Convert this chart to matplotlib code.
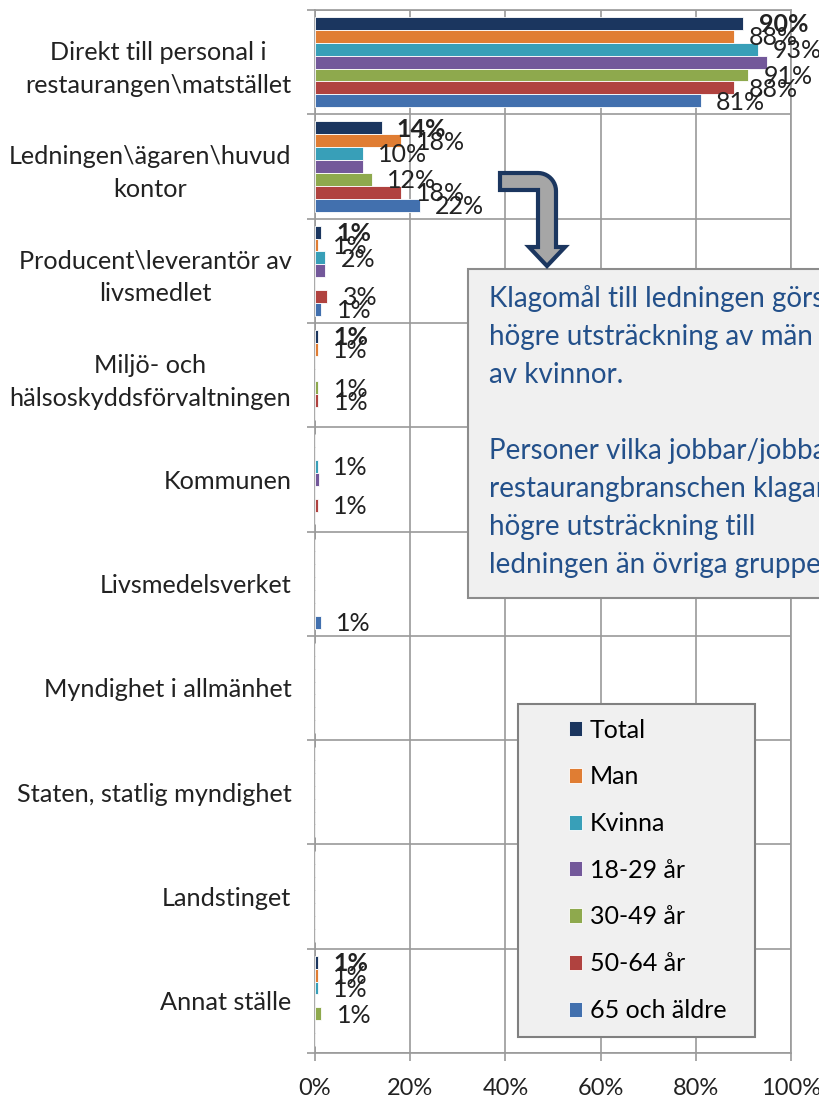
import numpy as np
import matplotlib
matplotlib.use("Agg")
import matplotlib.pyplot as plt
from matplotlib.patches import Rectangle, Polygon

plt.rcParams["font.family"] = ["Lato", "DejaVu Sans"]

# categories (top to bottom)
categories = [
    "Direkt till personal i\nrestaurangen\\matstället",
    "Ledningen\\ägaren\\huvud\nkontor",
    "Producent\\leverantör av\nlivsmedlet",
    "Miljö- och\nhälsoskyddsförvaltningen",
    "Kommunen",
    "Livsmedelsverket",
    "Myndighet i allmänhet",
    "Staten, statlig myndighet",
    "Landstinget",
    "Annat ställe",
]

series_names = ["Total", "Man", "Kvinna", "18-29 år", "30-49 år", "50-64 år", "65 och äldre"]

total = [90, 14, 1.3, 0.6, 0, 0, 0, 0, 0, 0.6]
man = [88, 18, 0.6, 0.6, 0, 0, 0, 0, 0, 0.6]
kvinna = [93, 10, 2.2, 0, 0.6, 0, 0, 0, 0, 0.6]
age_18_29 = [95, 10, 2.2, 0, 0.8, 0, 0, 0, 0, 0]
age_30_49 = [91, 12, 0, 0.7, 0, 0, 0, 0, 0, 1.3]
age_50_64 = [88, 18, 2.6, 0.7, 0.6, 0, 0, 0, 0, 0]
age_65 = [81, 22, 1.3, 0, 0, 1.2, 0, 0, 0, 0]

# 18-29 has no data labels in the original
show_labels = [True, True, True, False, True, True, True]

colors = ["#1b365f", "#e07d33", "#389fb8", "#73589a", "#8ea94d", "#b0423f", "#4270ae"]

note_lines = [
    "Klagomål till ledningen görs i",
    "högre utsträckning av män än",
    "av kvinnor.",
    "",
    "Personer vilka jobbar/jobbat inom",
    "restaurangbranschen klagar i",
    "högre utsträckning till",
    "ledningen än övriga grupper.",
]

W, H = 819, 1101
fig = plt.figure(figsize=(W / 100, H / 100), dpi=100)


def fx(px):
    return px / W


def fy(py):
    return 1 - py / H


ax = fig.add_axes([fx(315), fy(1053), fx(791) - fx(315), fy(10) - fy(1053)])

grid_col = "#9a9a9a"
all_series = [total, man, kvinna, age_18_29, age_30_49, age_50_64, age_65]
n = len(all_series)
group = 0.865
h = group / n
ypos = np.arange(len(categories))

for j, (vals, name, col) in enumerate(zip(all_series, series_names, colors)):
    y = ypos + (j - (n - 1) / 2) * h
    bars = ax.barh(y, vals, height=h, color=col, edgecolor="white",
                   linewidth=0.6, label=name, zorder=3)
    if not show_labels[j]:
        continue
    for b, v in zip(bars, vals):
        if v <= 0:
            continue
        ax.annotate(f"{round(v + 0.001):.0f}%", (v, b.get_y() + h / 2),
                    xytext=(11, -1), textcoords="offset points",
                    ha="left", va="center", fontsize=18, color="#222222",
                    fontweight="bold" if j == 0 else "normal", zorder=4)

ax.set_xlim(0, 100)
ax.set_ylim(len(categories) - 0.5, -0.5)
ax.set_xticks(np.arange(0, 101, 20))
ax.set_xticklabels([f"{t}%" for t in range(0, 101, 20)], fontsize=17, color="#222222")
ax.set_yticks(ypos)
ax.set_yticklabels(categories, fontsize=18.2, color="#222222",
                   multialignment="center", linespacing=1.5)
ax.set_yticks(np.arange(-0.5, len(categories), 1), minor=True)

ax.tick_params(axis="y", which="major", length=0, pad=17)
ax.tick_params(axis="y", which="minor", length=6, color=grid_col, width=1.2)
ax.tick_params(axis="x", which="major", length=6, color=grid_col, width=1.2, pad=12)
ax.xaxis.grid(True, color=grid_col, linewidth=1.2, zorder=0)
ax.yaxis.grid(True, which="minor", color=grid_col, linewidth=1.2, zorder=0)
ax.set_axisbelow(True)
for s in ax.spines.values():
    s.set_color(grid_col)
    s.set_linewidth(1.2)

# note box with bent arrow
fig.add_artist(Rectangle((fx(468), fy(598)), fx(840) - fx(468), fy(269) - fy(598),
                         transform=fig.transFigure, facecolor="#f0f0f0",
                         edgecolor="#8c8c8c", linewidth=1.5, zorder=6))
for k, line in enumerate(note_lines):
    fig.text(fx(489), fy(299 + 38 * k), line, fontsize=20, color="#23508a",
             ha="left", va="center", zorder=7)

arc = [(538 + 18 * np.sin(a), 191 - 18 * np.cos(a)) for a in np.linspace(0, np.pi / 2, 12)]
arrow_px = [(500, 173)] + arc + [(556, 247), (565, 247), (547, 266), (529, 247),
                                  (538, 247), (538, 190), (500, 190)]
fig.add_artist(Polygon([(fx(x), fy(y)) for x, y in arrow_px], closed=True,
                       transform=fig.transFigure, facecolor="#a6a6a6",
                       edgecolor="#1b365f", linewidth=3, joinstyle="miter", zorder=6))

# legend box (inside the axes so the legend can sit on top of it)
ax.add_patch(Rectangle((fx(518), fy(1037)), fx(755) - fx(518), fy(704) - fy(1037),
                       transform=fig.transFigure, facecolor="#f0f0f0",
                       edgecolor="#808080", linewidth=1.5, zorder=6, clip_on=False))
leg = ax.legend(loc="upper left", bbox_to_anchor=(fx(556), fy(706)),
                bbox_transform=fig.transFigure, frameon=False, fontsize=18,
                handlelength=0.55, handleheight=0.55, handletextpad=0.3,
                labelspacing=0.95, borderpad=0)
leg.set_zorder(8)

fig.savefig("out.png", dpi=100)
